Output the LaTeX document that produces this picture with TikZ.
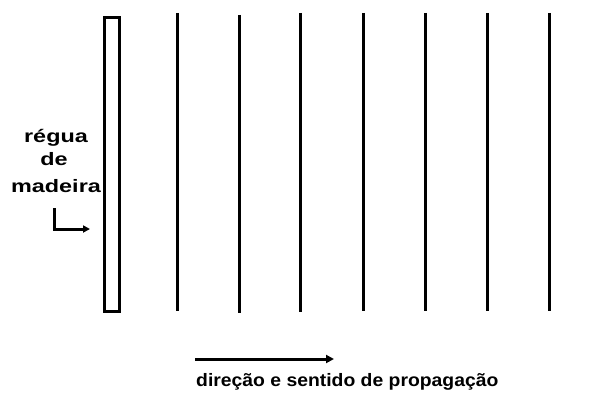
\documentclass[tikz,border=0pt]{standalone}
\usepackage{fontspec}
\setmainfont{Liberation Sans}[FakeStretch=1.075]
\newfontfamily\widefont{Liberation Sans}[FakeStretch=1.3]
\usetikzlibrary{arrows.meta}
\begin{document}
\begin{tikzpicture}[x=1pt,y=-1pt,
  wave/.style={line width=3pt},
  lbl/.style={font=\bfseries\fontsize{18}{20}\selectfont, inner sep=0pt},
  wlbl/.style={font=\widefont\bfseries\fontsize{18}{20}\selectfont, inner sep=0pt},
  arr/.style={line width=3pt,-{Triangle[length=8pt,width=8pt]}}]
\useasboundingbox (0,0) rectangle (602,396);
\fill[white] (0,0) rectangle (602,396);
% ruler
\node[draw, line width=3pt, minimum width=15pt, minimum height=294pt, inner sep=0pt, anchor=center] (ruler) at (112,164.5) {};
% wave fronts
\foreach \x/\t/\b [count=\i] in {177/13/311, 239/15/313, 300/13/312, 363/13/311, 425/13/311, 487/13/311, 549/13/311} {
  \coordinate (t\i) at (\x,\t);
  \coordinate (b\i) at (\x,\b);
  \draw[wave] (t\i) -- (b\i);
}
% labels
\node[wlbl, anchor=base] (l1) at (56,142) {régua};
\node[wlbl, anchor=base] (l2) at (54,165) {de};
\node[wlbl, anchor=base] (l3) at (56,192) {madeira};
\coordinate (ls) at (54,208);
\coordinate (lc) at (54,229);
\coordinate (le) at (90,229);
\draw[arr, -{Triangle[length=7pt,width=7pt]}] (ls) -- (lc) -- (le);
% propagation
\coordinate (ps) at (195,359);
\coordinate (pe) at (334,359);
\draw[arr] (ps) -- (pe);
\node[lbl, anchor=base west] (prop) at (196,386) {direção e sentido de propagação};
\end{tikzpicture}
\end{document}
